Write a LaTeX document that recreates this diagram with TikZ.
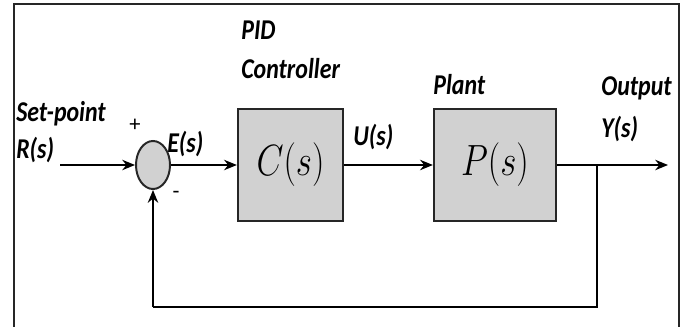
\documentclass[tikz,border=0pt]{standalone}
\usepackage{fontspec}
\setmainfont{Carlito}
\usepackage{tikz}
\usetikzlibrary{arrows.meta, positioning, shapes.geometric}
\newcommand{\tallbox}[2][1.2]{\scalebox{1}[#1]{#2}}

\begin{document}
\begin{tikzpicture}[x=0.025cm, y=-0.025cm,
    block/.style={draw=black!85, line width=1.6pt, fill=black!18, minimum width=#1, minimum height=2.8cm, inner sep=0pt},
    sumnode/.style={draw=black!85, ellipse, line width=1.4pt, fill=black!18, minimum width=0.85cm, minimum height=1.2cm, inner sep=0pt},
    signal/.style={-{Stealth[length=3.2mm, width=2.6mm]}, line width=1.3pt},
    wire/.style={line width=1.3pt},
    label/.style={anchor=base west, inner sep=0pt, font=\fontsize{17}{19}\selectfont\bfseries\itshape},
    sign/.style={inner sep=0pt, font=\fontsize{16}{18}\selectfont},
    tf/.style={font=\fontsize{24}{26}\selectfont}
]
\useasboundingbox (0,0) rectangle (681,327);

% Frame
\draw[line width=1.4pt, black!85] (14,327) -- (14,4) -- (679,4) -- (679,327);

% Summing junction and blocks
\node[sumnode] (sum) at (153,165) {};
\node[block=2.625cm] (ctrl) at (290.5,165) {};
\node[tf] at (ctrl) {\tallbox[1.25]{$C(s)$}};
\node[block=3.05cm] (plant) at (495,165) {};
\node[tf] at (plant) {\tallbox[1.25]{$P(s)$}};

% Signal points
\coordinate (rin) at (60,165);
\coordinate (yout) at (668,165);
\coordinate (branch) at (597,165);
\coordinate (fb) at (153,307);

% Forward path
\draw[signal] (rin) -- (sum.west);
\draw[signal] (sum.east) -- (ctrl.west);
\draw[signal] (ctrl.east) -- (plant.west);
\draw[signal] (plant.east) -- (yout);

% Feedback path
\draw[wire] (branch) |- (fb);
\draw[signal] (fb) -- (sum.south);

% Labels
\node[label] (pid) at (241,40) {\tallbox{PID}};
\node[label] (ctrllbl) at (241,79) {\tallbox{Controller}};
\node[label] (setp) at (16,122) {\tallbox{Set-point}};
\node[label] (rs) at (16,159) {\tallbox{R(s)}};
\node[label] (es) at (167,153) {\tallbox{E(s)}};
\node[label] (us) at (353,146) {\tallbox{U(s)}};
\node[label] (plantlbl) at (433,95) {\tallbox{Plant}};
\node[label] (outlbl) at (601,96) {\tallbox{Output}};
\node[label] (ys) at (601,138) {\tallbox{Y(s)}};
\node[sign] (plus) at (135,125) {+};
\node[sign] (minus) at (176,195) {-};

\end{tikzpicture}
\end{document}
